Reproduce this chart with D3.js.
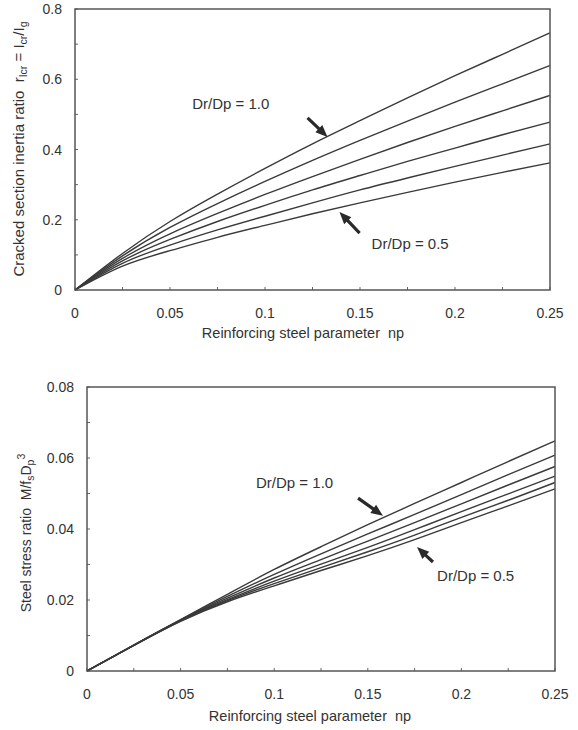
<!DOCTYPE html>
<html>
<head>
<meta charset="utf-8">
<script src="https://cdn.jsdelivr.net/npm/d3@7"></script>
<style>
  html, body { margin: 0; padding: 0; background: #ffffff; }
  svg { display: block; font-family: "Liberation Sans", Arial, Helvetica, sans-serif; }
</style>
</head>
<body>
<svg id="chart" width="578" height="730"></svg>
<script>
// ---------- data ----------
const npValues = [0, 0.025, 0.05, 0.075, 0.1, 0.125, 0.15, 0.175, 0.2, 0.225, 0.25];

// Top chart: cracked section inertia ratio, Dr/Dp = 1.0 (top) ... 0.5 (bottom)
const inertia_10 = [0, 0.104, 0.195, 0.273, 0.346, 0.416, 0.482, 0.547, 0.610, 0.671, 0.732];
const inertia_09 = [0, 0.097, 0.178, 0.246, 0.309, 0.369, 0.426, 0.481, 0.535, 0.587, 0.639];
const inertia_08 = [0, 0.090, 0.160, 0.218, 0.272, 0.323, 0.372, 0.420, 0.466, 0.510, 0.554];
const inertia_07 = [0, 0.083, 0.144, 0.195, 0.241, 0.285, 0.326, 0.366, 0.404, 0.442, 0.478];
const inertia_06 = [0, 0.076, 0.128, 0.171, 0.210, 0.248, 0.285, 0.319, 0.352, 0.384, 0.416];
const inertia_05 = [0, 0.068, 0.112, 0.150, 0.184, 0.217, 0.248, 0.278, 0.307, 0.335, 0.362];

// Bottom chart: steel stress ratio
const stress_10 = [0, 0.0073, 0.0145, 0.0216, 0.0286, 0.0350, 0.0412, 0.0472, 0.0531, 0.0590, 0.0648];
const stress_09 = [0, 0.0073, 0.0144, 0.0210, 0.0272, 0.0330, 0.0386, 0.0441, 0.0497, 0.0553, 0.0608];
const stress_08 = [0, 0.0073, 0.0143, 0.0205, 0.0262, 0.0314, 0.0366, 0.0418, 0.0471, 0.0524, 0.0576];
const stress_07 = [0, 0.0072, 0.0142, 0.0201, 0.0253, 0.0301, 0.0348, 0.0398, 0.0449, 0.0499, 0.0549];
const stress_06 = [0, 0.0072, 0.0141, 0.0198, 0.0246, 0.0291, 0.0336, 0.0383, 0.0433, 0.0481, 0.0531];
const stress_05 = [0, 0.0072, 0.0140, 0.0195, 0.0240, 0.0283, 0.0325, 0.0370, 0.0418, 0.0465, 0.0513];

const xTicks = [0, 0.05, 0.1, 0.15, 0.2, 0.25];
const xTickLabels = ["0", "0.05", "0.1", "0.15", "0.2", "0.25"];
const yTicksTop = [0, 0.2, 0.4, 0.6, 0.8];
const yTickLabelsTop = ["0", "0.2", "0.4", "0.6", "0.8"];
const yTicksBottom = [0, 0.02, 0.04, 0.06, 0.08];
const yTickLabelsBottom = ["0", "0.02", "0.04", "0.06", "0.08"];

const xTitle = "Reinforcing steel parameter  np";

// annotations (data units): label position, arrow tail, arrow tip
const topNotes = [
  { text: "Dr/Dp = 1.0", lx: 0.0617, ly: 0.532, tail: [0.1224, 0.490], tip: [0.1329, 0.4356] },
  { text: "Dr/Dp = 0.5", lx: 0.1561, ly: 0.131, tail: [0.1498, 0.162], tip: [0.1392, 0.222] }
];
const bottomNotes = [
  { text: "Dr/Dp = 1.0", lx: 0.0903, ly: 0.0530, tail: [0.1448, 0.0487], tip: [0.1581, 0.0437] },
  { text: "Dr/Dp = 0.5", lx: 0.1870, ly: 0.0270, tail: [0.1848, 0.0307], tip: [0.1763, 0.0349] }
];

// ---------- drawing ----------
const svg = d3.select("#chart");
const ink = "#333333";
const lineInk = "#3a3a3a";

function arrowPath(x1, y1, x2, y2) {
  const dx = x2 - x1, dy = y2 - y1;
  const len = Math.hypot(dx, dy);
  const ux = dx / len, uy = dy / len;
  const px = -uy, py = ux;
  const headLen = 12, headW = 5, shaftW = 1.6;
  const bx = x2 - ux * headLen, by = y2 - uy * headLen;
  const pts = [
    [x1 + px * shaftW, y1 + py * shaftW],
    [bx + px * shaftW, by + py * shaftW],
    [bx + px * headW, by + py * headW],
    [x2, y2],
    [bx - px * headW, by - py * headW],
    [bx - px * shaftW, by - py * shaftW],
    [x1 - px * shaftW, y1 - py * shaftW]
  ];
  return "M" + pts.map(p => p.join(",")).join("L") + "Z";
}

function drawPanel(cfg) {
  const x = d3.scaleLinear().domain([0, 0.25]).range([cfg.left, cfg.right]);
  const y = d3.scaleLinear().domain([0, cfg.yMax]).range([cfg.bottom, cfg.top]);
  const g = svg.append("g");

  // minor inward ticks
  const yMinor = d3.range(0, cfg.yMax + 1e-9, cfg.yMinorStep);
  g.selectAll(".ym").data(yMinor).enter().append("line")
    .attr("x1", cfg.left).attr("x2", cfg.left + 3)
    .attr("y1", d => y(d)).attr("y2", d => y(d))
    .attr("stroke", "#666").attr("stroke-width", 1);
  const xMinor = d3.range(0, 0.25 + 1e-9, 0.025);
  g.selectAll(".xm").data(xMinor).enter().append("line")
    .attr("x1", d => x(d)).attr("x2", d => x(d))
    .attr("y1", cfg.bottom).attr("y2", cfg.bottom - 3)
    .attr("stroke", "#666").attr("stroke-width", 1);

  // curves
  const line = d3.line().x((d, i) => x(npValues[i])).y(d => y(d)).curve(d3.curveNatural);
  g.selectAll(".curve").data(cfg.series).enter().append("path")
    .attr("d", d => line(d))
    .attr("fill", "none").attr("stroke", lineInk).attr("stroke-width", 1.4);

  // frame
  g.append("rect")
    .attr("x", cfg.left).attr("y", cfg.top)
    .attr("width", cfg.right - cfg.left).attr("height", cfg.bottom - cfg.top)
    .attr("fill", "none").attr("stroke", "#555").attr("stroke-width", 1.5);

  // tick labels
  g.selectAll(".xt").data(xTicks).enter().append("text")
    .attr("x", d => x(d)).attr("y", cfg.bottom + 28)
    .attr("text-anchor", "middle").attr("font-size", 14).attr("fill", ink)
    .text((d, i) => xTickLabels[i]);
  g.selectAll(".yt").data(cfg.yTicks).enter().append("text")
    .attr("x", cfg.left - 13).attr("y", d => y(d) + 5)
    .attr("text-anchor", "end").attr("font-size", 14).attr("fill", ink)
    .text((d, i) => cfg.yTickLabels[i]);

  // x title
  g.append("text")
    .attr("x", cfg.xTitleX).attr("y", cfg.xTitleY)
    .attr("text-anchor", "middle").attr("font-size", 14.5).attr("fill", ink)
    .attr("xml:space", "preserve")
    .text(xTitle);

  // y title
  const yt = g.append("text")
    .attr("transform", `translate(${cfg.yTitleX},${cfg.yTitleY}) rotate(-90)`)
    .attr("text-anchor", "middle").attr("font-size", cfg.yTitleSize).attr("fill", ink)
    .attr("xml:space", "preserve");
  cfg.yTitleParts.forEach(p => {
    const t = yt.append("tspan").text(p.t);
    if (p.s === "sub") t.attr("font-size", 10.5).attr("dy", 3);
    if (p.s === "sup") t.attr("font-size", 10.5).attr("dy", -9);
    if (p.s === "subup") t.attr("dy", -3);
  });

  // annotations
  cfg.notes.forEach(n => {
    g.append("text").attr("x", x(n.lx)).attr("y", y(n.ly) + 5.5)
      .attr("font-size", 15).attr("fill", ink).attr("xml:space", "preserve").text(n.text);
    g.append("path")
      .attr("d", arrowPath(x(n.tail[0]), y(n.tail[1]), x(n.tip[0]), y(n.tip[1])))
      .attr("fill", "#2a2a2a");
  });
}

drawPanel({
  left: 75, right: 550, top: 9, bottom: 290, yMax: 0.8, yMinorStep: 0.1,
  series: [inertia_10, inertia_09, inertia_08, inertia_07, inertia_06, inertia_05],
  yTicks: yTicksTop, yTickLabels: yTickLabelsTop,
  xTitleX: 303, xTitleY: 338,
  yTitleX: 24, yTitleY: 149, yTitleSize: 15,
  yTitleParts: [
    { t: "Cracked section inertia ratio  r" }, { t: "Icr", s: "sub" },
    { t: " = I", s: "subup" }, { t: "cr", s: "sub" },
    { t: "/I", s: "subup" }, { t: "g", s: "sub" }
  ],
  notes: topNotes
});

drawPanel({
  left: 87, right: 555, top: 387, bottom: 671, yMax: 0.08, yMinorStep: 0.01,
  series: [stress_10, stress_09, stress_08, stress_07, stress_06, stress_05],
  yTicks: yTicksBottom, yTickLabels: yTickLabelsBottom,
  xTitleX: 310, xTitleY: 721,
  yTitleX: 31, yTitleY: 533, yTitleSize: 14,
  yTitleParts: [
    { t: "Steel stress ratio  M/f" }, { t: "s", s: "sub" },
    { t: "D", s: "subup" }, { t: "p", s: "sub" }, { t: "3", s: "sup" }
  ],
  notes: bottomNotes
});
</script>
</body>
</html>
